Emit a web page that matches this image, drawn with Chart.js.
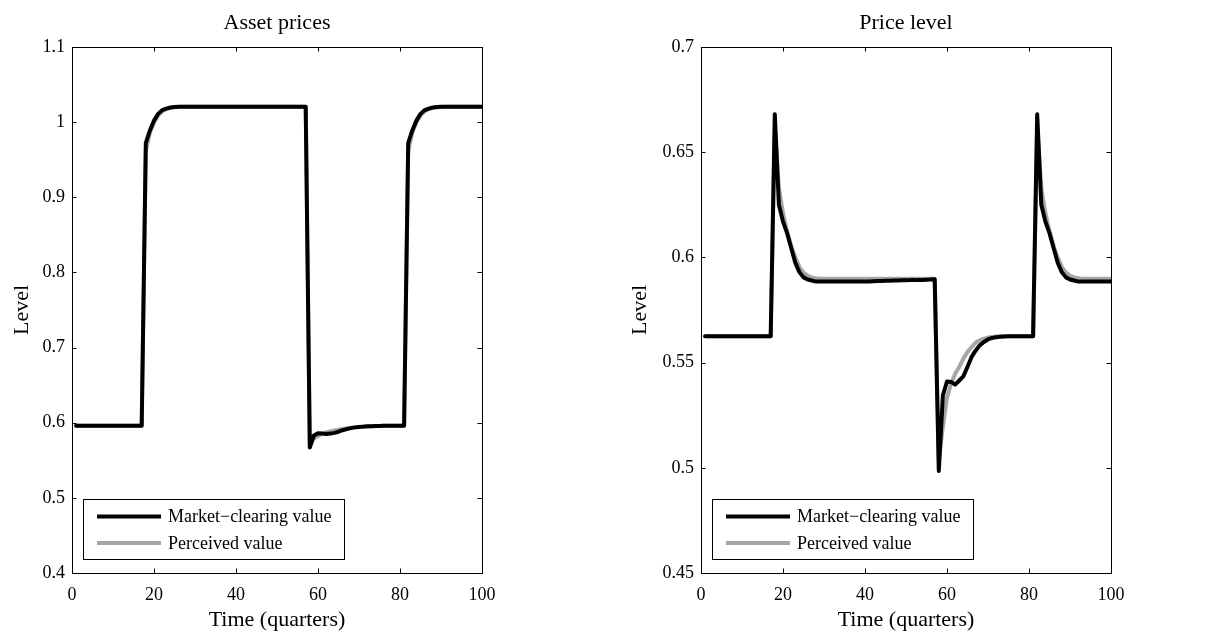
<!DOCTYPE html>
<html>
<head>
<meta charset="utf-8">
<title>Asset prices and price level</title>
<script src="https://cdn.jsdelivr.net/npm/chart.js@4.4.1/dist/chart.umd.min.js"></script>
<style>
  body { margin: 0; background: #fff; }
  .panel { position: absolute; top: 0; width: 612px; height: 637px; }
</style>
</head>
<body>
<div class="panel" style="left:0"><canvas id="assetChart" width="612" height="637"></canvas></div>
<div class="panel" style="left:612px"><canvas id="priceChart" width="612" height="637"></canvas></div>
<script>
const quarters = [
  1, 2, 3, 4, 5, 6, 7, 8, 9, 10, 11, 12, 13, 14, 15, 16, 17, 18, 19, 20,
  21, 22, 23, 24, 25, 26, 27, 28, 29, 30, 31, 32, 33, 34, 35, 36, 37, 38, 39, 40,
  41, 42, 43, 44, 45, 46, 47, 48, 49, 50, 51, 52, 53, 54, 55, 56, 57, 58, 59, 60,
  61, 62, 63, 64, 65, 66, 67, 68, 69, 70, 71, 72, 73, 74, 75, 76, 77, 78, 79, 80,
  81, 82, 83, 84, 85, 86, 87, 88, 89, 90, 91, 92, 93, 94, 95, 96, 97, 98, 99, 100
];

// Asset prices
const assetMarket = [
  0.596, 0.596, 0.596, 0.596, 0.596, 0.596, 0.596, 0.596, 0.596, 0.596,
  0.596, 0.596, 0.596, 0.596, 0.596, 0.596, 0.596, 0.972, 0.989, 1.002,
  1.011, 1.016, 1.018, 1.0195, 1.0202, 1.0205, 1.0205, 1.0205, 1.0205, 1.0205,
  1.0205, 1.0205, 1.0205, 1.0205, 1.0205, 1.0205, 1.0205, 1.0205, 1.0205, 1.0205,
  1.0205, 1.0205, 1.0205, 1.0205, 1.0205, 1.0205, 1.0205, 1.0205, 1.0205, 1.0205,
  1.0205, 1.0205, 1.0205, 1.0205, 1.0205, 1.0205, 1.0205, 0.567, 0.583, 0.586,
  0.5855, 0.585, 0.5855, 0.5865, 0.588, 0.590, 0.5915, 0.5928, 0.5938, 0.5944,
  0.5948, 0.5952, 0.5954, 0.5956, 0.5957, 0.5958, 0.5959, 0.596, 0.596, 0.596,
  0.596, 0.972, 0.989, 1.002, 1.011, 1.016, 1.018, 1.0195, 1.0202, 1.0205,
  1.0205, 1.0205, 1.0205, 1.0205, 1.0205, 1.0205, 1.0205, 1.0205, 1.0205, 1.0205
];
const assetPerceived = [
  0.596, 0.596, 0.596, 0.596, 0.596, 0.596, 0.596, 0.596, 0.596, 0.596,
  0.596, 0.596, 0.596, 0.596, 0.596, 0.596, 0.596, 0.962, 0.986, 1.000,
  1.009, 1.0145, 1.0175, 1.019, 1.0198, 1.0203, 1.0205, 1.0205, 1.0205, 1.0205,
  1.0205, 1.0205, 1.0205, 1.0205, 1.0205, 1.0205, 1.0205, 1.0205, 1.0205, 1.0205,
  1.0205, 1.0205, 1.0205, 1.0205, 1.0205, 1.0205, 1.0205, 1.0205, 1.0205, 1.0205,
  1.0205, 1.0205, 1.0205, 1.0205, 1.0205, 1.0205, 1.0205, 0.574, 0.579, 0.5825,
  0.585, 0.587, 0.5885, 0.5897, 0.5908, 0.5917, 0.5925, 0.5932, 0.5938, 0.5943,
  0.5947, 0.595, 0.5953, 0.5955, 0.5957, 0.5958, 0.5959, 0.596, 0.596, 0.596,
  0.596, 0.962, 0.986, 1.000, 1.009, 1.0145, 1.0175, 1.019, 1.0198, 1.0203,
  1.0205, 1.0205, 1.0205, 1.0205, 1.0205, 1.0205, 1.0205, 1.0205, 1.0205, 1.0205
];

// Price level
const priceMarket = [
  0.5625, 0.5625, 0.5625, 0.5625, 0.5625, 0.5625, 0.5625, 0.5625, 0.5625, 0.5625,
  0.5625, 0.5625, 0.5625, 0.5625, 0.5625, 0.5625, 0.5625, 0.668, 0.625, 0.617,
  0.6115, 0.6045, 0.5975, 0.593, 0.5905, 0.5895, 0.589, 0.5885, 0.5885, 0.5885,
  0.5885, 0.5885, 0.5885, 0.5885, 0.5885, 0.5885, 0.5885, 0.5885, 0.5885, 0.5885,
  0.5886, 0.5887, 0.5888, 0.5888, 0.5889, 0.5889, 0.589, 0.589, 0.5891, 0.5891,
  0.5892, 0.5892, 0.5893, 0.5893, 0.5894, 0.5895, 0.5896, 0.4985, 0.5345, 0.541,
  0.5408, 0.5395, 0.5415, 0.5435, 0.548, 0.5527, 0.5558, 0.5582, 0.5598, 0.561,
  0.5617, 0.5621, 0.5623, 0.5624, 0.5625, 0.5625, 0.5625, 0.5625, 0.5625, 0.5625,
  0.5625, 0.668, 0.625, 0.617, 0.6115, 0.6045, 0.5975, 0.593, 0.5905, 0.5895,
  0.589, 0.5885, 0.5885, 0.5885, 0.5885, 0.5885, 0.5885, 0.5885, 0.5885, 0.5885
];
const pricePerceived = [
  0.5625, 0.5625, 0.5625, 0.5625, 0.5625, 0.5625, 0.5625, 0.5625, 0.5625, 0.5625,
  0.5625, 0.5625, 0.5625, 0.5625, 0.5625, 0.5625, 0.5625, 0.662, 0.633, 0.621,
  0.6125, 0.6055, 0.600, 0.5955, 0.5928, 0.5913, 0.5905, 0.5901, 0.5899, 0.5898,
  0.5898, 0.5898, 0.5898, 0.5898, 0.5898, 0.5898, 0.5898, 0.5898, 0.5898, 0.5898,
  0.5898, 0.5898, 0.5898, 0.5898, 0.5898, 0.5898, 0.5898, 0.5898, 0.5898, 0.5898,
  0.5898, 0.5898, 0.5898, 0.5898, 0.5898, 0.5898, 0.5898, 0.5035, 0.5195, 0.5335,
  0.540, 0.5447, 0.548, 0.5519, 0.5551, 0.5574, 0.5595, 0.5606, 0.5614, 0.5619,
  0.5622, 0.5624, 0.5625, 0.5625, 0.5625, 0.5625, 0.5625, 0.5625, 0.5625, 0.5625,
  0.5625, 0.662, 0.633, 0.621, 0.6125, 0.6055, 0.600, 0.5955, 0.5928, 0.5913,
  0.5905, 0.5901, 0.5899, 0.5898, 0.5898, 0.5898, 0.5898, 0.5898, 0.5898, 0.5898
];

const xTicks = [0, 20, 40, 60, 80, 100];
const assetTicks = [0.4, 0.5, 0.6, 0.7, 0.8, 0.9, 1, 1.1];
const priceTicks = [0.45, 0.5, 0.55, 0.6, 0.65, 0.7];
const seriesNames = ['Market\u2212clearing value', 'Perceived value'];

const serif = "'Liberation Serif', 'Times New Roman', serif";
Chart.defaults.font.family = serif;
Chart.defaults.color = '#000';

// box around the plot, inward ticks on all four sides, and the legend
const framePlugin = {
  id: 'frame',
  afterDraw(chart) {
    const { ctx, chartArea: a, scales } = chart;
    const tl = 4.5;
    ctx.save();
    ctx.strokeStyle = '#000';
    ctx.lineWidth = 1;
    ctx.strokeRect(a.left + 0.5, a.top + 0.5, a.right - a.left, a.bottom - a.top);
    ctx.beginPath();
    scales.x.ticks.forEach(t => {
      const px = Math.round(scales.x.getPixelForValue(t.value)) + 0.5;
      ctx.moveTo(px, a.bottom); ctx.lineTo(px, a.bottom - tl);
      ctx.moveTo(px, a.top); ctx.lineTo(px, a.top + tl);
    });
    scales.y.ticks.forEach(t => {
      const py = Math.round(scales.y.getPixelForValue(t.value)) + 0.5;
      ctx.moveTo(a.left, py); ctx.lineTo(a.left + tl, py);
      ctx.moveTo(a.right, py); ctx.lineTo(a.right - tl, py);
    });
    ctx.stroke();

    // legend, lower left
    const bx = a.left + 11, by = a.bottom - 74, bw = 261, bh = 60;
    ctx.fillStyle = '#fff';
    ctx.fillRect(bx, by, bw, bh);
    ctx.strokeRect(bx + 0.5, by + 0.5, bw, bh);
    ctx.font = '18px ' + serif;
    ctx.textBaseline = 'middle';
    ctx.textAlign = 'left';
    chart.data.datasets.forEach((ds, i) => {
      const ly = by + 17.5 + i * 26.5;
      ctx.beginPath();
      ctx.strokeStyle = ds.borderColor;
      ctx.lineWidth = ds.borderWidth;
      ctx.moveTo(a.left + 25, ly);
      ctx.lineTo(a.left + 89, ly);
      ctx.stroke();
      ctx.fillStyle = '#000';
      ctx.fillText(ds.label, a.left + 96, ly + 1);
    });
    ctx.restore();
  }
};

function makeChart(id, title, market, perceived, yTicks, axisWidth, padRight, levelPad) {
  return new Chart(document.getElementById(id), {
    type: 'line',
    data: {
      datasets: [{
        label: seriesNames[0],
        data: quarters.map((q, i) => ({ x: q, y: market[i] })),
        borderColor: '#000',
        borderWidth: 4
      }, {
        label: seriesNames[1],
        data: quarters.map((q, i) => ({ x: q, y: perceived[i] })),
        borderColor: '#a6a6a6',
        borderWidth: 4
      }]
    },
    options: {
      responsive: false,
      animation: false,
      layout: { padding: { left: 0, right: padRight, top: 0, bottom: 0 } },
      elements: {
        point: { radius: 0 },
        line: { tension: 0, borderJoinStyle: 'round', borderCapStyle: 'round' }
      },
      plugins: {
        legend: { display: false },
        tooltip: { enabled: false },
        title: {
          display: true,
          text: title,
          fullSize: false,
          color: '#000',
          font: { size: 22, weight: 'normal' },
          padding: { top: 10, bottom: 10.6 }
        }
      },
      scales: {
        x: {
          type: 'linear',
          min: 0,
          max: 100,
          afterBuildTicks: (scale) => { scale.ticks = xTicks.map(v => ({ value: v })); },
          afterFit: (scale) => { scale.height = 64; },
          grid: { display: false, drawTicks: false },
          border: { display: false },
          ticks: { font: { size: 18 }, padding: 11, maxRotation: 0, callback: (v) => String(v) },
          title: {
            display: true,
            text: 'Time (quarters)',
            font: { size: 22 },
            padding: { top: 0, bottom: 4 }
          }
        },
        y: {
          type: 'linear',
          min: yTicks[0],
          max: yTicks[yTicks.length - 1],
          afterBuildTicks: (scale) => { scale.ticks = yTicks.map(v => ({ value: v })); },
          afterFit: (scale) => { scale.width = axisWidth; },
          grid: { display: false, drawTicks: false },
          border: { display: false },
          ticks: { font: { size: 18 }, padding: 7, callback: (v) => String(v) },
          title: {
            display: true,
            text: 'Level',
            font: { size: 22 },
            padding: { top: levelPad, bottom: 0 }
          }
        }
      }
    },
    plugins: [framePlugin]
  });
}

makeChart('assetChart', 'Asset prices', assetMarket, assetPerceived, assetTicks, 72, 130, 9);
makeChart('priceChart', 'Price level', priceMarket, pricePerceived, priceTicks, 89, 113, 15);
</script>
</body>
</html>
